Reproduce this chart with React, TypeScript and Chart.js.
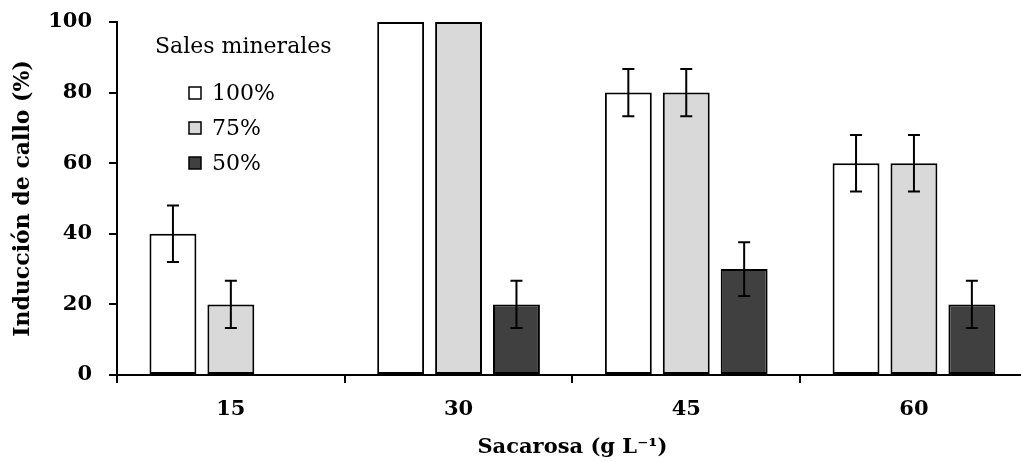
import React, { useEffect, useRef } from 'react';
import { Chart, registerables } from 'chart.js';

Chart.register(...registerables);

// ---- data ----
const categories = ['15', '30', '45', '60'];
const seriesLabels = ['100%', '75%', '50%'];
const values100 = [40, 100, 80, 60];
const values75 = [20, 100, 80, 60];
const values50 = [0, 20, 30, 20];
const errors100 = [8, 0, 6.7, 8];
const errors75 = [6.7, 0, 6.7, 8];
const errors50 = [0, 6.7, 7.6, 6.7];
const yTicks = [0, 20, 40, 60, 80, 100];
const legendTitle = 'Sales minerales';
const xTitle = 'Sacarosa (g L\u207B\u00B9)';
const yTitle = 'Inducción de callo (%)';

const seriesColors = ['#FFFFFF', '#D9D9D9', '#404040'];
const FONT = "'DejaVu Serif', serif";

const errorSets = [errors100, errors75, errors50];

const errorBarPlugin = {
  id: 'errorBars',
  afterDatasetsDraw(chart: any) {
    const ctx = chart.ctx;
    const yScale = chart.scales.y;
    ctx.save();
    ctx.strokeStyle = '#000';
    ctx.lineWidth = 2;
    chart.data.datasets.forEach((ds: any, i: number) => {
      const meta = chart.getDatasetMeta(i);
      const errs = errorSets[i];
      meta.data.forEach((bar: any, j: number) => {
        const e = errs[j];
        if (!e) return;
        const v = ds.data[j];
        const x = bar.x;
        const yTop = yScale.getPixelForValue(v + e);
        const yBot = yScale.getPixelForValue(v - e);
        const cap = 6;
        ctx.beginPath();
        ctx.moveTo(x, yTop);
        ctx.lineTo(x, yBot);
        ctx.moveTo(x - cap, yTop);
        ctx.lineTo(x + cap, yTop);
        ctx.moveTo(x - cap, yBot);
        ctx.lineTo(x + cap, yBot);
        ctx.stroke();
      });
    });
    ctx.restore();
  },
};

const legendPlugin = {
  id: 'insideLegend',
  afterDraw(chart: any) {
    const ctx = chart.ctx;
    ctx.save();
    ctx.fillStyle = '#000';
    ctx.textBaseline = 'middle';
    ctx.textAlign = 'left';
    ctx.font = `22px ${FONT}`;
    ctx.fillText(legendTitle, 155, 47);
    const rows = [93, 128, 163];
    chart.data.datasets.forEach((ds: any, i: number) => {
      const y = rows[i];
      ctx.fillStyle = ds.backgroundColor;
      ctx.fillRect(189, y - 6, 12, 12);
      ctx.strokeStyle = '#000';
      ctx.lineWidth = 1.5;
      ctx.strokeRect(189, y - 6, 12, 12);
      ctx.fillStyle = '#000';
      ctx.fillText(ds.label, 212, y + 1);
    });
    ctx.restore();
  },
};

export default function App() {
  const canvasRef = useRef<HTMLCanvasElement | null>(null);

  useEffect(() => {
    const canvas = canvasRef.current;
    if (!canvas) return;
    const valueSets = [values100, values75, values50];
    const chart = new Chart(canvas, {
      type: 'bar',
      data: {
        labels: categories,
        datasets: seriesLabels.map((label, i) => ({
          label,
          data: valueSets[i],
          backgroundColor: seriesColors[i],
          borderColor: '#000',
          borderWidth: 2,
          borderSkipped: false,
          categoryPercentage: 0.763,
          barPercentage: 0.81,
        })),
      },
      options: {
        responsive: false,
        animation: false,
        devicePixelRatio: 1,
        layout: { padding: { top: 22, right: 12.2, left: 0, bottom: 0 } },
        plugins: {
          legend: { display: false },
          tooltip: { enabled: false },
        },
        scales: {
          x: {
            offset: true,
            grid: {
              offset: true,
              drawOnChartArea: false,
              drawTicks: true,
              tickLength: 8,
              color: '#000',
              lineWidth: 2,
            },
            border: { display: true, color: '#000', width: 2 },
            ticks: {
              color: '#000',
              padding: 14,
              font: { family: FONT, size: 21, weight: 'bold' },
            },
            title: {
              display: true,
              text: xTitle,
              color: '#000',
              padding: { top: 0, bottom: 2 },
              font: { family: FONT, size: 21, weight: 'bold' },
            },
            afterFit: (s: any) => {
              s.height = 87;
              s.paddingLeft = 0;
              s.paddingRight = 0;
              s.paddingTop = 0;
              s.paddingBottom = 0;
            },
          },
          y: {
            min: 0,
            max: 100,
            grid: {
              drawOnChartArea: false,
              drawTicks: true,
              tickLength: 8,
              color: '#000',
              lineWidth: 2,
            },
            border: { display: true, color: '#000', width: 2 },
            ticks: {
              color: '#000',
              padding: 17,
              font: { family: FONT, size: 21, weight: 'bold' },
            },
            afterBuildTicks: (s: any) => {
              s.ticks = yTicks.map((v) => ({ value: v }));
            },
            title: {
              display: true,
              text: yTitle,
              color: '#000',
              padding: { top: 10, bottom: 0 },
              font: { family: FONT, size: 22, weight: 'bold' },
            },
            afterFit: (s: any) => {
              s.width = 117;
              s.paddingLeft = 0;
              s.paddingRight = 0;
              s.paddingTop = 0;
              s.paddingBottom = 0;
            },
          },
        },
      },
      plugins: [errorBarPlugin, legendPlugin],
    });
    return () => chart.destroy();
  }, []);

  return (
    <div
      style={{
        position: 'fixed',
        left: 0,
        top: 0,
        width: 1021,
        height: 462,
        overflow: 'hidden',
        background: '#fff',
      }}
    >
      <canvas
        ref={canvasRef}
        width={1040}
        height={462}
        style={{ width: 1040, height: 462, display: 'block' }}
      />
    </div>
  );
}
